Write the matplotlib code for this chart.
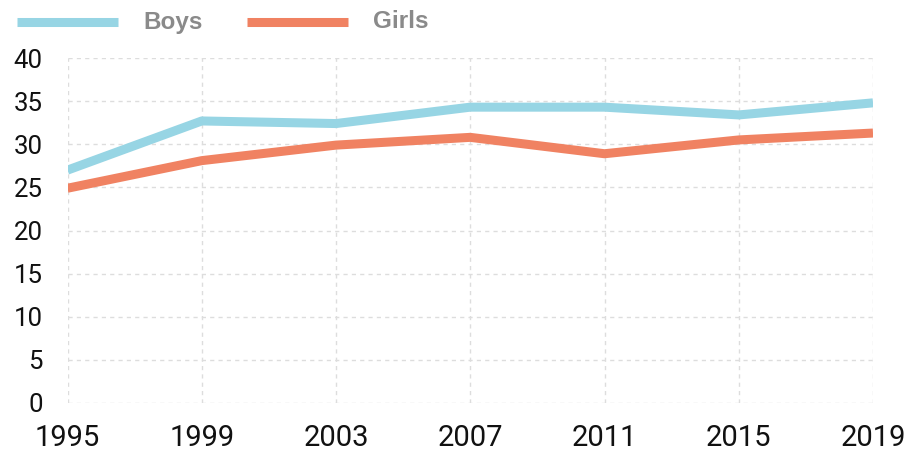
import matplotlib
matplotlib.use("Agg")
import matplotlib.pyplot as plt

years = [1995, 1999, 2003, 2007, 2011, 2015, 2019]
boys = [27.0, 32.7, 32.4, 34.3, 34.3, 33.4, 34.8]
girls = [24.9, 28.1, 29.9, 30.8, 28.9, 30.5, 31.3]
yticks = [0, 5, 10, 15, 20, 25, 30, 35, 40]

tick_font = ['Roboto', 'DejaVu Sans']

fig = plt.figure(figsize=(9.1, 4.54), dpi=100)
ax = fig.add_axes([67.5/910, 1-403/454, (873-67.5)/910, (403-58)/454])

boys_color = '#97D5E4'
girls_color = '#F08262'
ax.plot(years, boys, color=boys_color, lw=6.5, solid_capstyle='butt', solid_joinstyle='round', zorder=3)
ax.plot(years, girls, color=girls_color, lw=6.5, solid_capstyle='butt', solid_joinstyle='round', zorder=3)

ax.set_xlim(years[0], years[-1])
ax.set_ylim(0, 40)
ax.set_xticks(years)
ax.set_yticks(yticks)
ax.set_xticklabels([str(y) for y in years], fontfamily=tick_font, fontweight='normal', fontsize=21, color='#111111')
ax.set_yticklabels([str(v) for v in yticks], fontfamily=tick_font, fontweight='normal', fontsize=18.5, color='#111111')
ax.tick_params(length=0)
ax.tick_params(axis='y', pad=18)
ax.tick_params(axis='x', pad=15)
ax.grid(True, color='#dddddd', linestyle=(0, (3, 3)), linewidth=1)
for s in ax.spines.values():
    s.set_visible(False)

# legend
fig.lines.append(plt.Line2D([17/910, 118/910], [1-22/454, 1-22/454], transform=fig.transFigure, color=boys_color, lw=6.5, solid_capstyle='butt'))
fig.lines.append(plt.Line2D([247/910, 348/910], [1-22/454, 1-22/454], transform=fig.transFigure, color=girls_color, lw=6.5, solid_capstyle='butt'))
fig.text(143/910, 1-22/454, 'Boys', fontsize=17.5, fontweight='bold', color='#8a8a8a', va='center', ha='left', fontfamily='Liberation Sans')
fig.text(373/910, 1-22/454, 'Girls', fontsize=17.5, fontweight='bold', color='#8a8a8a', va='center', ha='left', fontfamily='Liberation Sans')

fig.savefig('out.png', dpi=100)
